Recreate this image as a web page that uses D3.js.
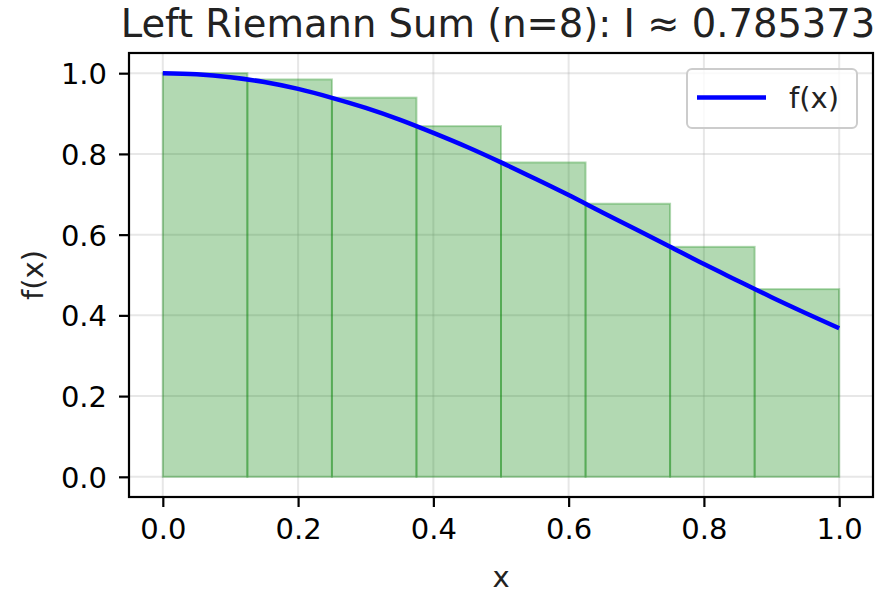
<!DOCTYPE html>
<html>
<head>
<meta charset="utf-8">
<script src="https://cdn.jsdelivr.net/npm/d3@7"></script>
<style>
  body { margin: 0; background: #fff; }
  text { font-family: "DejaVu Sans", sans-serif; fill: #000; }
</style>
</head>
<body>
<div id="chart"></div>
<script>

// Left edges of the rectangles and their heights
const barLefts = [0, 0.125, 0.25, 0.375, 0.5, 0.625, 0.75, 0.875];
const barHeights = [1.0, 0.9845, 0.9394, 0.8688, 0.7788, 0.6766, 0.5698, 0.4650];
const barWidth = 0.125;

// curve points
const curveX = [0, 0.05, 0.1, 0.15, 0.2, 0.25, 0.3, 0.35, 0.4, 0.45, 0.5,
                0.55, 0.6, 0.65, 0.7, 0.75, 0.8, 0.85, 0.9, 0.95, 1.0];
const curveY = [1.0, 0.9975, 0.990, 0.978, 0.961, 0.939, 0.914, 0.885, 0.852, 0.817, 0.779,
                0.739, 0.698, 0.655, 0.613, 0.570, 0.527, 0.486, 0.445, 0.406, 0.368];

const xTicks = [0.0, 0.2, 0.4, 0.6, 0.8, 1.0];
const yTicks = [0.0, 0.2, 0.4, 0.6, 0.8, 1.0];
const title = "Left Riemann Sum (n=8): I \u2248 0.785373";

const W = 882, H = 594;
const plot = {left: 129, right: 873, top: 53, bottom: 497};
const fs = 29;

const svg = d3.select("#chart").append("svg")
  .attr("width", W).attr("height", H);

const x = d3.scaleLinear().domain([-0.05, 1.05]).range([plot.left, plot.right]);
const y = d3.scaleLinear().domain([-0.05, 1.05]).range([plot.bottom, plot.top]);

// grid
const grid = svg.append("g").attr("stroke", "#b0b0b0").attr("stroke-opacity", 0.3).attr("stroke-width", 2);
xTicks.forEach(t => grid.append("line")
  .attr("x1", x(t)).attr("x2", x(t)).attr("y1", plot.top).attr("y2", plot.bottom));
yTicks.forEach(t => grid.append("line")
  .attr("x1", plot.left).attr("x2", plot.right).attr("y1", y(t)).attr("y2", y(t)));

// rectangles
svg.append("g").selectAll("rect")
  .data(barLefts)
  .enter()
  .append("rect")
    .attr("x", d => x(d))
    .attr("y", (d, i) => y(barHeights[i]))
    .attr("width", x(barWidth) - x(0))
    .attr("height", (d, i) => y(0) - y(barHeights[i]))
    .attr("fill", "rgba(0,128,0,0.3)")
    .attr("stroke", "rgba(0,128,0,0.3)")
    .attr("stroke-width", 2);

// curve
const pts = curveX.map((d, i) => [d, curveY[i]]);
svg.append("path")
  .datum(pts)
  .attr("fill", "none")
  .attr("stroke", "#0000ff")
  .attr("stroke-width", 4.5)
  .attr("d", d3.line().x(d => x(d[0])).y(d => y(d[1])).curve(d3.curveMonotoneX));

// axes
const xAxis = svg.append("g")
  .attr("transform", "translate(0," + plot.bottom + ")")
  .call(d3.axisBottom(x).tickValues(xTicks).tickFormat(d3.format(".1f")).tickSize(10).tickPadding(10));
const yAxis = svg.append("g")
  .attr("transform", "translate(" + plot.left + ",0)")
  .call(d3.axisLeft(y).tickValues(yTicks).tickFormat(d3.format(".1f")).tickSize(10).tickPadding(12));
[xAxis, yAxis].forEach(a => {
  a.select(".domain").remove();
  a.selectAll("line").attr("stroke", "#000").attr("stroke-width", 2.2);
  a.selectAll("text").style("font-family", "DejaVu Sans").style("font-size", fs + "px").attr("fill", "#222");
});
xAxis.selectAll("text").attr("dy", "0.75em");
yAxis.selectAll("text").attr("dy", "0.36em");

// frame
svg.append("rect")
  .attr("x", plot.left).attr("y", plot.top)
  .attr("width", plot.right - plot.left).attr("height", plot.bottom - plot.top)
  .attr("fill", "none").attr("stroke", "#000").attr("stroke-width", 2.2);

// labels
svg.append("text")
  .attr("x", (plot.left + plot.right) / 2 - 3).attr("y", 37)
  .attr("text-anchor", "middle")
  .style("font-size", "38.5px")
  .style("fill", "#222")
  .text(title);
svg.append("text")
  .attr("x", (plot.left + plot.right) / 2).attr("y", 587)
  .attr("text-anchor", "middle")
  .style("font-size", fs + "px")
  .style("fill", "#222")
  .text("x");
svg.append("text")
  .attr("transform", "translate(43," + ((plot.top + plot.bottom) / 2) + ") rotate(-90)")
  .attr("text-anchor", "middle")
  .style("font-size", fs + "px")
  .style("fill", "#222")
  .text("f(x)");

// legend
const lg = svg.append("g");
lg.append("rect")
  .attr("x", 687).attr("y", 69).attr("width", 170).attr("height", 59)
  .attr("rx", 5)
  .attr("fill", "rgba(255,255,255,0.8)")
  .attr("stroke", "#cccccc").attr("stroke-width", 2);
lg.append("line")
  .attr("x1", 697).attr("x2", 766).attr("y1", 97.5).attr("y2", 97.5)
  .attr("stroke", "#0000ff").attr("stroke-width", 4.5);
lg.append("text")
  .attr("x", 789).attr("y", 108)
  .style("font-size", fs + "px")
  .style("fill", "#222")
  .text("f(x)");

</script>
</body>
</html>
